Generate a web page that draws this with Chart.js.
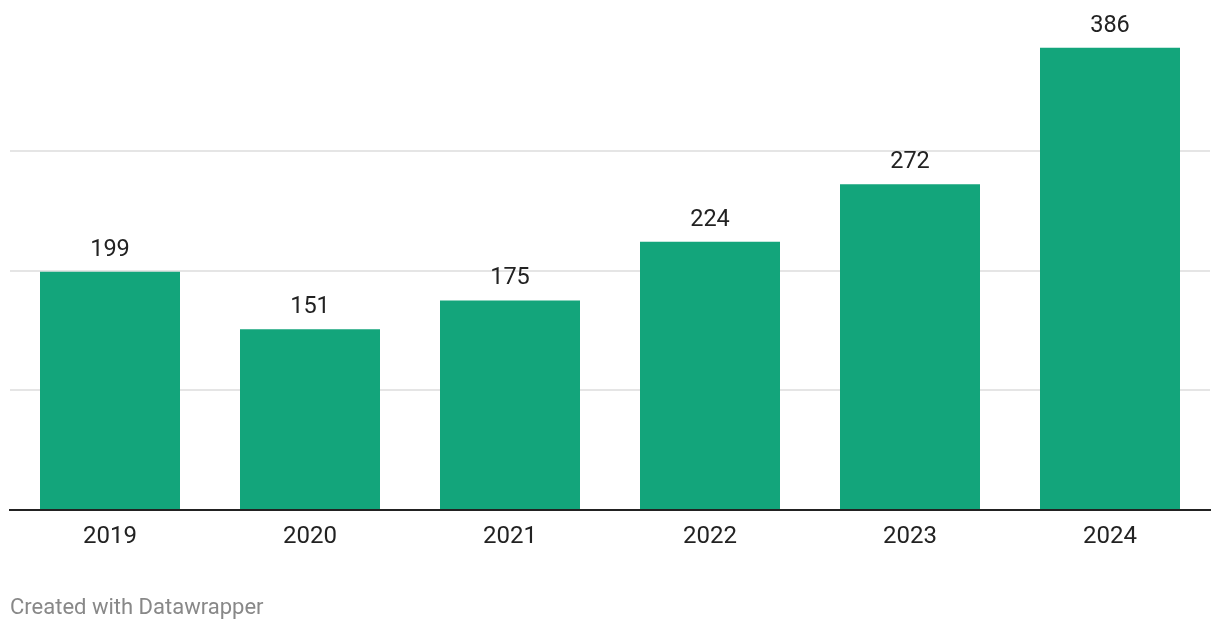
<!DOCTYPE html>
<html>
<head>
<meta charset="utf-8">
<script src="https://cdn.jsdelivr.net/npm/chart.js@4"></script>
<style>
  html, body { margin: 0; padding: 0; background: #fff; }
  #wrap { position: relative; width: 1220px; height: 630px; }
  #footer {
    position: absolute; left: 10px; top: 594px;
    font-family: Roboto, sans-serif; font-size: 22px; color: #888;
  }
</style>
</head>
<body>
<div id="wrap">
  <canvas id="chart" width="1220" height="630"></canvas>
  <div id="footer">Created with Datawrapper</div>
</div>
<script>
const years = ['2019', '2020', '2021', '2022', '2023', '2024'];
const values = [199, 151, 175, 224, 272, 386];

// value labels above each bar
const barLabels = {
  id: 'barLabels',
  afterDatasetsDraw(chart) {
    const ctx = chart.ctx;
    const meta = chart.getDatasetMeta(0);
    ctx.save();
    ctx.font = '23.5px Roboto, sans-serif';
    ctx.fillStyle = '#222';
    ctx.textAlign = 'center';
    ctx.textBaseline = 'alphabetic';
    meta.data.forEach((bar, i) => {
      ctx.fillText(values[i], bar.x, bar.y - 16);
    });
    ctx.restore();
  }
};

new Chart(document.getElementById('chart'), {
  type: 'bar',
  data: {
    labels: years,
    datasets: [{
      data: values,
      backgroundColor: '#13a57b',
      barPercentage: 0.7,
      categoryPercentage: 1.0,
    }],
  },
  options: {
    responsive: false,
    animation: false,
    layout: { padding: { left: 10, right: 10, top: 31, bottom: 0 } },
    plugins: {
      legend: { display: false },
      tooltip: { enabled: false },
    },
    scales: {
      x: {
        grid: { display: false },
        border: { display: true, color: '#222', width: 2 },
        ticks: {
          color: '#222',
          font: { family: 'Roboto', size: 24 },
          padding: 5,
        },
        afterFit(scale) { scale.height = 120; },
      },
      y: {
        min: 0,
        max: 400,
        border: { display: false },
        ticks: { display: false, stepSize: 100 },
        grid: {
          drawTicks: false,
          lineWidth: 2,
          color: (c) => (c.tick && (c.tick.value === 0 || c.tick.value === 400)) ? 'rgba(0,0,0,0)' : '#e5e5e5',
        },
        afterFit(scale) { scale.width = 0; },
      },
    },
  },
  plugins: [barLabels],
});
</script>
</body>
</html>
